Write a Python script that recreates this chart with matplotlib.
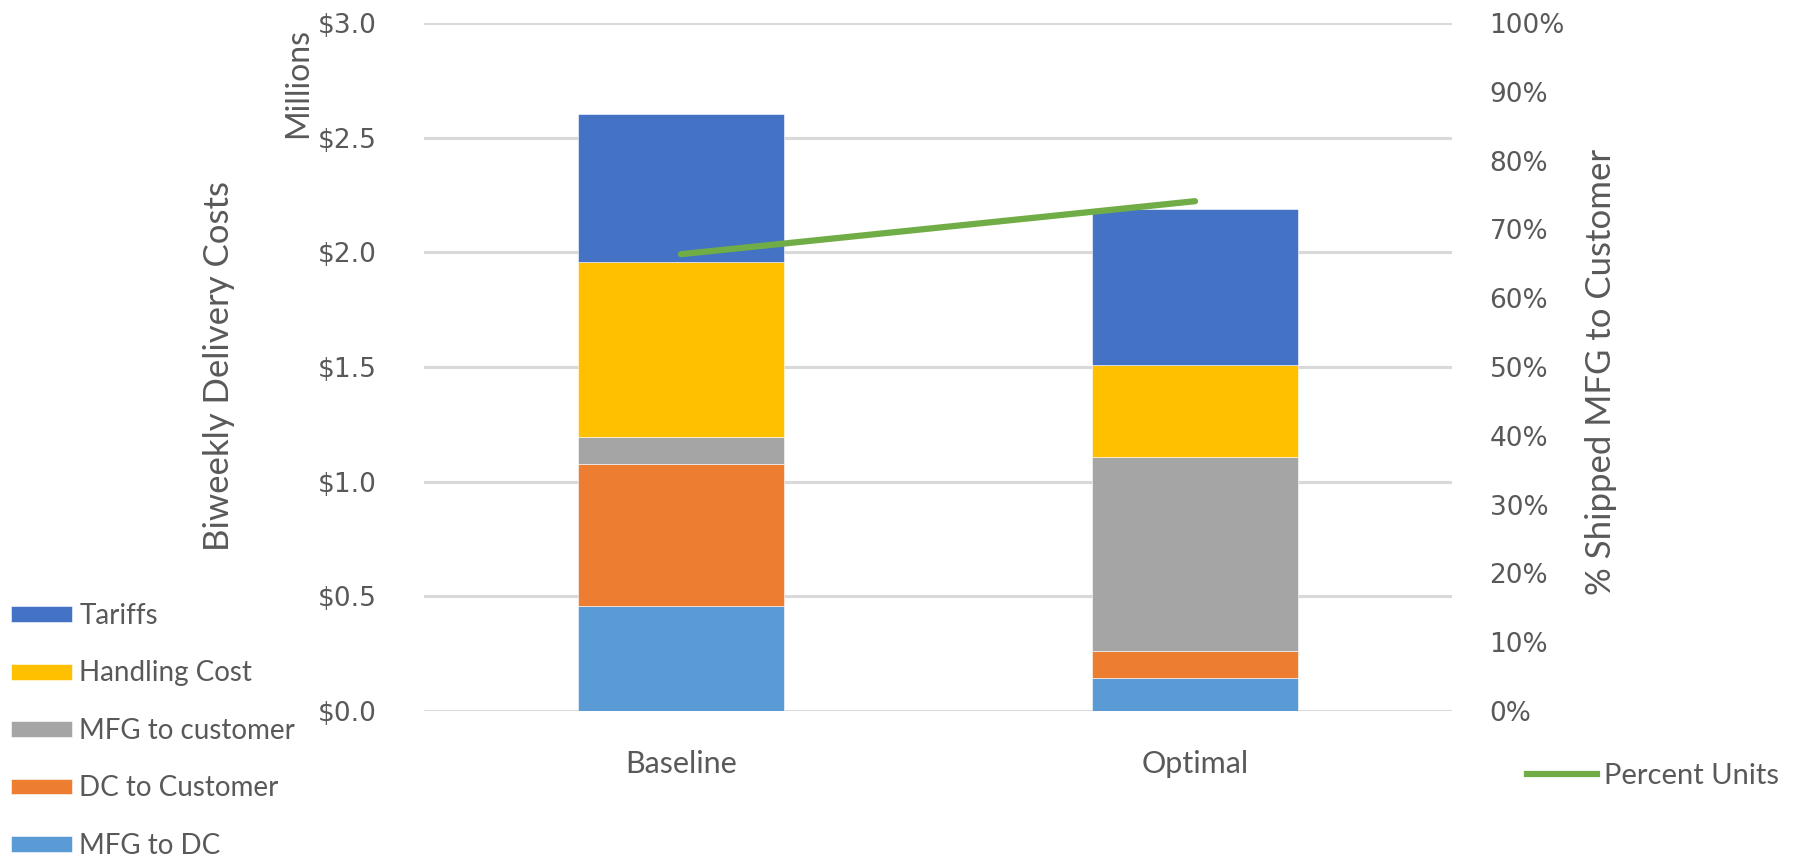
import matplotlib
matplotlib.use("Agg")
import matplotlib.pyplot as plt
from matplotlib.ticker import FuncFormatter, MultipleLocator
from matplotlib.lines import Line2D

# Scenario categories
scenarios = ["Baseline", "Optimal"]

# Biweekly delivery cost components, in millions of dollars
mfg_to_dc = [0.458, 0.142]
dc_to_customer = [0.618, 0.118]
mfg_to_customer = [0.118, 0.847]
handling_cost = [0.764, 0.400]
tariffs = [0.647, 0.680]

# Share of units shipped directly from manufacturing to customer
percent_units = [0.664, 0.741]

series = [
    ("MFG to DC", mfg_to_dc, "#5B9BD5"),
    ("DC to Customer", dc_to_customer, "#ED7D31"),
    ("MFG to customer", mfg_to_customer, "#A5A5A5"),
    ("Handling Cost", handling_cost, "#FFC000"),
    ("Tariffs", tariffs, "#4472C4"),
]

TEXT = "#595959"
TITLE_FONT = ["Lato", "Open Sans", "DejaVu Sans"]
TICK_FONT = ["DejaVu Sans"]

W, H = 1810, 857
fig = plt.figure(figsize=(W / 100, H / 100), dpi=100)
ax = fig.add_axes([424 / W, 1 - 711 / H, (1452 - 424) / W, (711 - 23) / H])

x = list(range(len(scenarios)))
bottom = [0.0] * len(scenarios)
handles = {}
for name, vals, color in series:
    bars = ax.bar(x, vals, width=0.4, bottom=bottom, color=color,
                  edgecolor="white", linewidth=0.4, zorder=2)
    handles[name] = bars
    bottom = [b + v for b, v in zip(bottom, vals)]

ax.set_xlim(-0.5, 1.5)
ax.set_ylim(0, 3.0)
ax.yaxis.set_major_locator(MultipleLocator(0.5))
ax.yaxis.set_major_formatter(FuncFormatter(lambda v, p: f"${v:.1f}"))
ax.grid(axis="y", color="#D9D9D9", linewidth=2.2, zorder=0)
ax.set_axisbelow(True)
for s in ax.spines.values():
    s.set_visible(False)
ax.tick_params(axis="y", length=0, pad=34, labelsize=19, labelcolor=TEXT)
ax.tick_params(axis="x", length=0, pad=28, labelsize=22, labelcolor=TEXT)
ax.set_xticks(x)
ax.set_xticklabels(scenarios, fontfamily=TITLE_FONT)
for t in ax.get_yticklabels():
    t.set_fontfamily(TICK_FONT)

# Secondary axis for the percentage line
ax2 = ax.twinx()
ax2.set_ylim(0, 1.0)
ax2.yaxis.set_major_locator(MultipleLocator(0.1))
ax2.yaxis.set_major_formatter(FuncFormatter(lambda v, p: f"{v * 100:.0f}%"))
for s in ax2.spines.values():
    s.set_visible(False)
ax2.tick_params(axis="y", length=0, pad=27, labelsize=19, labelcolor=TEXT)
for t in ax2.get_yticklabels():
    t.set_fontfamily(TICK_FONT)
line, = ax2.plot(x, percent_units, color="#70AD47", linewidth=4.5,
                 solid_capstyle="round", zorder=3)

# Axis titles
fig.text(219 / W, 1 - 366 / H, "Biweekly Delivery Costs", rotation=90,
         ha="center", va="center", fontsize=25, color=TEXT, fontfamily=TITLE_FONT)
fig.text(298 / W, 1 - 83 / H, "Millions", rotation=90,
         ha="center", va="center", fontsize=23, color=TEXT, fontfamily=TITLE_FONT)
fig.text(1601 / W, 1 - 372 / H, "% Shipped MFG to Customer", rotation=90,
         ha="center", va="center", fontsize=25, color=TEXT, fontfamily=TITLE_FONT)

# Legend for the cost components (top-down: Tariffs first)
order = ["Tariffs", "Handling Cost", "MFG to customer", "DC to Customer", "MFG to DC"]
leg = fig.legend([handles[n] for n in order], order,
                 loc="upper left", bbox_to_anchor=(0 / W, 1 - 592 / H),
                 frameon=False, handlelength=2.2, handleheight=0.5,
                 handletextpad=0.25, labelspacing=1.13, borderaxespad=0,
                 prop={"family": TITLE_FONT, "size": 20})
for t in leg.get_texts():
    t.set_color(TEXT)

leg2 = fig.legend([Line2D([0], [0], color="#70AD47", linewidth=4.5)],
                  ["Percent Units"], loc="center left",
                  bbox_to_anchor=(1515 / W, 1 - 776 / H), frameon=False,
                  handlelength=2.4, handletextpad=0.25, borderaxespad=0,
                  prop={"family": TITLE_FONT, "size": 21})
for t in leg2.get_texts():
    t.set_color(TEXT)

fig.savefig("out.png", dpi=100)
